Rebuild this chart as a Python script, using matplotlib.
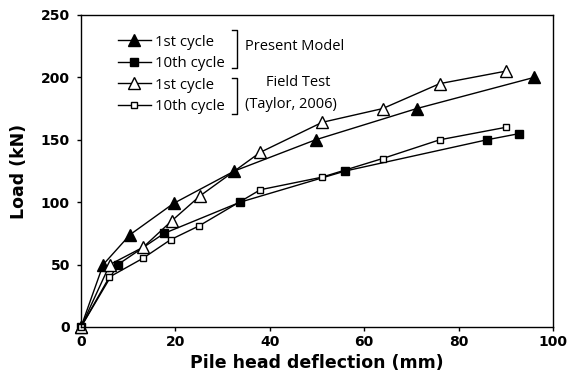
import matplotlib.pyplot as plt
from matplotlib.lines import Line2D

# pile head deflection (mm) vs load (kN)
pm1_x = [0, 4.7, 10.4, 19.6, 32.5, 49.7, 71.1, 96]
pm1_y = [0, 50, 74, 99, 125, 150, 175, 200]
pm10_x = [0, 7.8, 17.6, 33.7, 56, 86, 92.9]
pm10_y = [0, 50, 75, 100, 125, 150, 155]
ft1_x = [0, 6.1, 13.2, 19.2, 25.2, 38, 51.1, 63.9, 76, 90]
ft1_y = [0, 50, 64, 85, 105, 140, 164, 175, 195, 205]
ft10_x = [0, 6, 13.1, 19, 25, 38, 51, 63.9, 76, 90]
ft10_y = [0, 40, 55, 70, 81, 110, 120, 135, 150, 160]

W, H = 567, 387
fig = plt.figure(figsize=(W / 100, H / 100), dpi=100)
ax = fig.add_axes([81 / W, 1 - 327 / H, (553 - 81) / W, (327 - 15) / H])

ax.plot(pm1_x, pm1_y, color='black', lw=1, marker='^', ms=8, mfc='black', label='1st cycle', clip_on=False)
ax.plot(pm10_x, pm10_y, color='black', lw=1, marker='s', ms=5.5, mfc='black', label='10th cycle', clip_on=False)
ax.plot(ft1_x, ft1_y, color='black', lw=1, marker='^', ms=8, mfc='white', label='1st cycle', clip_on=False)
ax.plot(ft10_x, ft10_y, color='black', lw=1, marker='s', ms=5, mfc='white', label='10th cycle', clip_on=False)

ax.set_xlim(0, 100)
ax.set_ylim(0, 250)
ax.set_xticks(range(0, 101, 20))
ax.set_yticks(range(0, 251, 50))
ax.tick_params(direction='out', length=3, width=1, labelsize=10)
ax.tick_params(axis='y', pad=5)
ax.tick_params(axis='x', pad=3)
for lab in ax.get_xticklabels() + ax.get_yticklabels():
    lab.set_fontfamily('DejaVu Sans')
    lab.set_fontweight('bold')
for s in ax.spines.values():
    s.set_linewidth(1)

ax.set_xlabel('Pile head deflection (mm)', fontsize=12.5, fontweight='bold', family='DejaVu Sans', labelpad=3)
ax.set_ylabel('Load (kN)', fontsize=12.5, fontweight='bold', family='DejaVu Sans', labelpad=9)

leg = ax.legend(loc='upper left', bbox_to_anchor=(110 / W, 1 - 27 / H), bbox_transform=fig.transFigure,
                frameon=False, prop={'family': 'Open Sans', 'size': 10.8},
                handlelength=2.2, handletextpad=0.3, labelspacing=0.44, borderpad=0)

# brackets and group labels
def fx(px):
    return px / W

def fy(py):
    return 1 - py / H

for top, bot in [(30, 68), (78, 114)]:
    fig.add_artist(Line2D([fx(232), fx(237), fx(237), fx(232)], [fy(top), fy(top), fy(bot), fy(bot)],
                          color='black', lw=1))
fig.text(fx(245), fy(47), 'Present Model', family='Open Sans', fontsize=10.5, va='center')
fig.text(fx(298), fy(83), 'Field Test', family='Open Sans', fontsize=10.5, va='center', ha='center')
fig.text(fx(245), fy(104), '(Taylor, 2006)', family='Open Sans', fontsize=10.5, va='center')

fig.savefig('out.png', dpi=100)
